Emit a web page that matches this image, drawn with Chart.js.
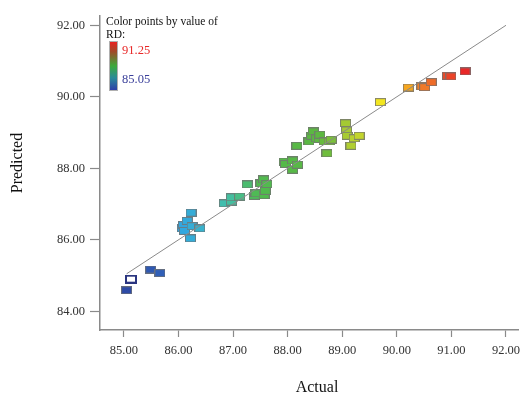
<!DOCTYPE html>
<html>
<head>
<meta charset="utf-8">
<script src="https://cdn.jsdelivr.net/npm/chart.js@4/dist/chart.umd.min.js"></script>
<style>
  html, body { margin: 0; padding: 0; background: #ffffff; }
  #wrap { width: 524px; height: 400px; }
</style>
</head>
<body>
<div id="wrap"><canvas id="c" width="524" height="400"></canvas></div>
<script>
// Actual vs. predicted RD values for each run
const actual = [
  85.05, 85.49, 85.66,
  86.07, 86.09, 86.11, 86.16, 86.23, 86.25, 86.39, 86.22,
  86.84, 86.97, 86.97, 87.12, 87.26, 87.39, 87.42, 87.51, 87.56, 87.57, 87.59, 87.62,
  87.94, 87.96, 88.09, 88.09, 88.18, 88.17,
  88.39, 88.44, 88.47, 88.53, 88.58, 88.59, 88.67, 88.72, 88.76, 88.80,
  89.06, 89.08, 89.09, 89.16, 89.22, 89.31, 89.70,
  90.21, 90.46, 90.51, 90.63, 90.93, 90.99, 91.25
];
const predicted = [
  84.59, 85.17, 85.07,
  86.32, 86.41, 86.25, 86.53, 86.76, 86.38, 86.32, 86.04,
  87.02, 87.07, 87.19, 87.21, 87.55, 87.23, 87.30, 87.58, 87.69, 87.25, 87.37, 87.56,
  88.19, 88.12, 88.22, 87.96, 88.10, 88.63,
  88.75, 88.91, 89.03, 88.84, 88.82, 88.94, 88.75, 88.42, 88.75, 88.80,
  89.26, 89.06, 88.91, 88.63, 88.84, 88.91, 89.85,
  90.26, 90.29, 90.27, 90.41, 90.59, 90.57, 90.71
];
// Selected run, drawn as an open marker
const selectedActual = [85.13];
const selectedPredicted = [84.90];

// Colour range of RD
const rdMin = 85.05;
const rdMax = 91.25;

const xTicks = [85, 86, 87, 88, 89, 90, 91, 92];
const yTicks = [84, 86, 88, 90, 92];
const lineEnds = [85.05, 92];

// Colour ramp used to paint each marker by its RD value
const ramp = [
  [85.05, [46, 75, 166]],
  [85.70, [48, 96, 184]],
  [86.10, [50, 168, 224]],
  [86.90, [66, 192, 170]],
  [87.45, [80, 186, 80]],
  [88.60, [92, 184, 64]],
  [89.10, [170, 204, 50]],
  [89.70, [242, 230, 32]],
  [90.20, [245, 168, 32]],
  [90.50, [240, 122, 40]],
  [91.25, [232, 40, 40]]
];
function rampColor(v) {
  if (v <= ramp[0][0]) return ramp[0][1];
  for (let i = 1; i < ramp.length; i++) {
    if (v <= ramp[i][0]) {
      const a = ramp[i - 1], b = ramp[i];
      const t = (v - a[0]) / (b[0] - a[0]);
      return a[1].map((c, k) => Math.round(c + (b[1][k] - c) * t));
    }
  }
  return ramp[ramp.length - 1][1];
}
function marker(fill, stroke, lw, w, h) {
  const cv = document.createElement('canvas');
  cv.width = w; cv.height = h;
  const g = cv.getContext('2d');
  if (fill) { g.fillStyle = fill; g.fillRect(0, 0, w, h); }
  g.strokeStyle = stroke; g.lineWidth = lw;
  g.strokeRect(lw / 2, lw / 2, w - lw, h - lw);
  return cv;
}
const pointData = actual.map((a, i) => ({ x: a, y: predicted[i] }));
const pointStyles = actual.map(a => {
  const c = rampColor(a);
  return marker('rgb(' + c.join(',') + ')', 'rgba(115,115,115,0.8)', 1, 11, 8);
});
const selectedStyles = selectedActual.map(() => marker('#ffffff', '#2a3580', 2, 12, 9));

const serif = '"Liberation Serif", "Times New Roman", serif';

// Colour key and axis titles
const annotations = {
  id: 'annotations',
  afterDraw(chart) {
    const ctx = chart.ctx;
    ctx.save();
    ctx.fillStyle = '#111';
    ctx.font = '11.5px ' + serif;
    ctx.textBaseline = 'alphabetic';
    ctx.textAlign = 'left';
    ctx.fillText('Color points by value of', 106, 25);
    ctx.fillText('RD:', 106, 38);
    const bx = 110, by = 42, bw = 7, bh = 48;
    const grad = ctx.createLinearGradient(0, by, 0, by + bh);
    grad.addColorStop(0, '#e82222');
    grad.addColorStop(0.2, '#a04a28');
    grad.addColorStop(0.5, '#3caa3c');
    grad.addColorStop(0.75, '#2a8a9a');
    grad.addColorStop(1, '#2e3fa8');
    ctx.fillStyle = grad;
    ctx.fillRect(bx, by, bw, bh);
    ctx.strokeStyle = '#b0b0b0';
    ctx.lineWidth = 1;
    ctx.strokeRect(bx - 0.5, by - 0.5, bw + 1, bh + 1);
    ctx.font = '12.5px ' + serif;
    ctx.textBaseline = 'middle';
    ctx.fillStyle = '#e82828';
    ctx.fillText(rdMax.toFixed(2), 122, 51);
    ctx.fillStyle = '#3a3f9a';
    ctx.fillText(rdMin.toFixed(2), 122, 80);
    ctx.fillStyle = '#111';
    ctx.font = '16px ' + serif;
    ctx.textAlign = 'center';
    ctx.fillText('Actual', 317, 388);
    ctx.translate(18, 163);
    ctx.rotate(-Math.PI / 2);
    ctx.fillText('Predicted', 0, 0);
    ctx.restore();
  }
};

new Chart(document.getElementById('c'), {
  type: 'scatter',
  data: {
    datasets: [
      {
        type: 'line',
        data: lineEnds.map(v => ({ x: v, y: v })),
        borderColor: '#8a8a8a',
        borderWidth: 1,
        pointRadius: 0,
        fill: false,
        order: 0
      },
      {
        data: pointData,
        pointStyle: pointStyles,
        pointRadius: 5,
        order: 1
      },
      {
        data: selectedActual.map((a, i) => ({ x: a, y: selectedPredicted[i] })),
        pointStyle: selectedStyles,
        pointRadius: 5,
        order: 1
      }
    ]
  },
  options: {
    responsive: false,
    animation: false,
    layout: { padding: { top: 16, right: 4, left: 0, bottom: 0 } },
    plugins: { legend: { display: false }, tooltip: { enabled: false } },
    scales: {
      x: {
        type: 'linear',
        min: 84.5625,
        max: 92.22,
        afterFit(s) { s.height = 70; s.paddingLeft = 0; s.paddingRight = 0; },
        afterBuildTicks(s) { s.ticks = xTicks.map(v => ({ value: v })); },
        grid: { drawOnChartArea: false, drawTicks: true, tickLength: 7, tickColor: '#8a8a8a', tickWidth: 1.2 },
        border: { color: '#8a8a8a', width: 1.5 },
        ticks: {
          padding: 6,
          color: '#333',
          font: { family: serif, size: 12.5 },
          maxRotation: 0,
          autoSkip: false,
          callback: v => Number(v).toFixed(2)
        }
      },
      y: {
        type: 'linear',
        min: 83.478,
        max: 92.26,
        afterFit(s) { s.width = 100; s.paddingTop = 0; s.paddingBottom = 0; },
        afterBuildTicks(s) { s.ticks = yTicks.map(v => ({ value: v })); },
        grid: { drawOnChartArea: false, drawTicks: true, tickLength: 10, tickColor: '#8a8a8a', tickWidth: 1.2 },
        border: { color: '#8a8a8a', width: 1.5 },
        ticks: {
          padding: 5,
          color: '#333',
          font: { family: serif, size: 12.5 },
          autoSkip: false,
          callback: v => Number(v).toFixed(2)
        }
      }
    }
  },
  plugins: [annotations]
});
</script>
</body>
</html>
